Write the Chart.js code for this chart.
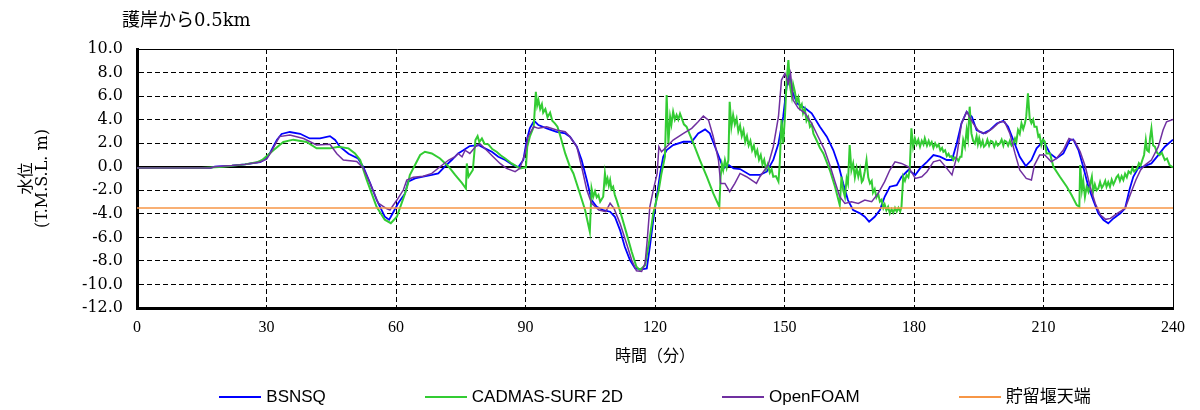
<!DOCTYPE html>
<html lang="ja">
<head>
<meta charset="utf-8">
<title>護岸から0.5km</title>
<script src="https://cdn.jsdelivr.net/npm/chart.js@4.4.1/dist/chart.umd.min.js"></script>
<style>
    html, body { margin: 0; padding: 0; background: #fff; }
    #wrap { position: relative; width: 1200px; height: 410px; overflow: hidden; }
    #levelChart { position: absolute; left: 0; top: 0; }
    #chart-title {
        position: absolute; left: 122px; top: 9px; line-height: 22px;
        font-size: 18px; font-family: "DejaVu Serif", "Noto Sans CJK JP", serif; color: #000;
    }
    #legend {
        position: absolute; left: 137px; width: 1036px; top: 386px; line-height: 22px;
        display: flex; justify-content: center; gap: 99px;
        font-size: 17px;
        font-family: "Liberation Sans Narrow", "Liberation Sans", "Noto Sans CJK JP", sans-serif;
        color: #000;
    }
    .legend-item { display: flex; align-items: center; white-space: nowrap; }
    .legend-line { width: 42px; height: 2px; margin-right: 5px; }
</style>
</head>
<body>
<div id="wrap">
    <canvas id="levelChart" width="1200" height="410"></canvas>
    <div id="chart-title">護岸から0.5km</div>
    <div id="legend"></div>
</div>
<script>
// Axis ticks
const xTicks = [0, 30, 60, 90, 120, 150, 180, 210, 240];
const yTicks = [-12, -10, -8, -6, -4, -2, 0, 2, 4, 6, 8, 10];

// Series names and colours
const seriesNames = ['BSNSQ', 'CADMAS-SURF 2D', 'OpenFOAM', '貯留堰天端'];
const seriesColors = ['#0000ff', '#33cc33', '#7030a0', '#f79646'];
const seriesWidths = [1.8, 2, 1.5, 1.5];

// [time (min), water level (m)]
const bsnsq = [
    [0,-0.1],[17,-0.1],[18,0],[22,0.1],[25,0.2],[28.5,0.4],[30,0.7],[31,1.3],[32.4,2.27],[33.5,2.78],
    [35.4,2.95],[37.8,2.8],[40,2.4],[42.4,2.4],[44.7,2.6],[45.9,2.27],[47,1.7],[49,1.1],[51.2,0.7],[52.4,0],
    [54,-1.4],[55.5,-2.8],[57.4,-4.25],[58.4,-4.5],[58.8,-4.25],[60.5,-3.1],[62.1,-2.27],[62.8,-1.27],[64.4,-0.99],[66.3,-0.85],
    [68.3,-0.7],[69.8,-0.57],[71.3,0],[72.9,0.57],[74.4,1.13],[75.6,1.4],[77.1,1.76],[79.1,1.84],[80.6,1.56],[82.2,1.27],
    [83.7,0.85],[85.3,0.57],[86.8,0.22],[88.3,-0.05],[89.5,0.57],[90.3,2.27],[91,3.26],[92,3.9],[93,3.54],[94.9,3.26],
    [97.2,2.97],[99.2,2.83],[100.3,2.55],[101.9,1.7],[103,0.57],[104.2,-1.13],[105.3,-2.83],[106.5,-3.4],[108,-3.68],[109.6,-3.82],
    [110.7,-4.25],[111.9,-5.38],[113,-6.8],[114.2,-7.93],[115.4,-8.64],[116.9,-8.72],[118.1,-8.64],[118.8,-6.8],[119.6,-4.53],[120.4,-2.55],
    [121.2,-0.57],[121.9,0.85],[122.7,1.42],[124.2,1.84],[126.6,2.12],[128.5,2.12],[130,2.83],[131.6,3.17],[132.7,2.83],[133.9,1.7],
    [135.1,0.57],[135.8,-0.14],[137.1,0.14],[138.2,-0.14],[139.7,-0.2],[142,-0.7],[144.3,-0.7],[145.9,-0.42],[147.4,0.57],[148.6,1.98],
    [149.7,4.25],[150.5,6.8],[151.1,7.93],[151.7,6.52],[152.9,5.38],[154.8,4.96],[156.3,4.53],[158.2,3.4],[159.8,2.55],[161.3,1.42],
    [162.5,0.14],[163.6,-1.42],[164.7,-2.83],[165.9,-3.68],[167.5,-3.96],[168.6,-4.25],[169.6,-4.67],[170.9,-4.25],[172.1,-3.68],[173.2,-2.55],
    [174.4,-1.7],[176,-1.56],[177.1,-0.85],[178.7,-0.28],[180.3,-0.7],[181.4,-0.14],[183,0.42],[184.5,0.99],[186,0.85],[187.6,0.57],
    [188.8,0.57],[189.9,1.98],[191,3.68],[192.2,4.67],[193.4,4.25],[194.5,3.12],[196.1,2.83],[197.6,3.12],[199.2,3.68],[200.7,3.9],
    [201.8,3.4],[203,2.27],[204.5,0.85],[205.9,0.06],[207.2,0.57],[208.4,1.56],[209.1,1.84],[209.9,2.27],[211.5,1.13],[213,0.71],
    [214.6,1.13],[216.1,2.27],[216.9,2.32],[218.1,1.42],[219.2,0],[220.4,-1.7],[221.5,-2.83],[222.7,-3.96],[223.9,-4.53],[225,-4.81],
    [226.2,-4.39],[227.8,-3.96],[228.9,-3.54],[229.9,-1.98],[230.8,-0.85],[231.9,-0.14],[233.5,0.06],[235,0.28],[236.6,0.99],[238.1,1.7],
    [240,2.3]
];

const cadmas = [
    [0,-0.1],[15,-0.1],[20,0],[25,0.2],[28,0.4],[29,0.57],[31.6,1.4],[33.9,2.1],[36.2,2.3],[39.3,2.1],
    [41.6,1.56],[44.7,1.56],[46.7,1.7],[49,1.56],[50.5,1.13],[51.7,0.57],[53.2,-1.1],[55.5,-3.4],[57.4,-4.5],[58.8,-4.8],
    [60.2,-4.25],[62.1,-2.27],[62.8,-1.4],[63.2,-0.7],[64.4,0.14],[65.6,1.0],[66.7,1.27],[68.3,1.13],[70.2,0.7],[72.2,0],
    [73.7,-0.7],[75.3,-1.4],[76.2,-1.85],[76.4,0.28],[76.8,-0.85],[77.8,-0.28],[78.4,2.27],[78.9,2.6],[79.3,2.1],[79.9,2.4],
    [80.5,1.95],[81.4,1.9],[82.3,1.5],[83.3,1.27],[84.3,0.95],[85.3,0.7],[86.8,0.28],[88.7,-0.14],[90.1,-0.05],[90.4,1.7],
    [91,2.55],[91.9,3.4],[92.4,6.37],[92.7,5.2],[93,5.66],[93.4,4.9],[93.8,5.3],[94.1,4.6],[94.6,4.9],[95.1,4.2],
    [95.7,4.6],[96.2,3.9],[96.8,3.68],[97.4,3.4],[98,2.7],[99.2,1.13],[100.3,0],[101.1,-0.57],[102.6,-2.27],[103.8,-3.68],
    [104.9,-5.52],[105.3,-1.84],[105.7,-2.55],[106.1,-2.1],[106.5,-2.6],[106.9,-2.4],[107.3,-2.97],[108,-2.55],[108.4,-0.57],[108.7,-1.4],
    [109,-1.0],[109.3,-1.6],[109.6,-1.13],[109.9,-1.9],[110.3,-1.7],[110.7,-2.4],[111.1,-2.83],[112.3,-4.25],[113.4,-5.66],[114.6,-7.22],
    [115.7,-8.5],[116.5,-8.78],[117.7,-8.36],[118.7,-6.23],[119.6,-3.96],[120.8,-2.12],[121.5,-0.57],[122.3,0.85],[122.7,6.1],[123.1,1.98],
    [123.5,4.25],[123.8,3.6],[124.2,4.67],[124.6,4.0],[125,4.4],[125.4,4.0],[125.8,4.5],[126.2,4.1],[126.7,3.6],[127.3,3.4],
    [128.9,1.98],[130.4,0.57],[132,-0.85],[133.5,-2.27],[134.9,-3.4],[135.2,-0.85],[135.5,0.2],[135.8,-0.3],[136.2,0.57],[136.6,-0.1],
    [137,0.57],[137.3,5.52],[137.7,3.4],[138.1,4.4],[138.5,3.6],[138.9,4.1],[139.3,3.0],[139.7,3.5],[140.1,2.6],[140.5,3.1],
    [140.9,2.1],[141.3,2.6],[141.7,1.8],[142.1,2.2],[142.5,1.4],[142.9,1.8],[143.3,1.0],[143.7,1.4],[144.1,0.6],[144.5,1.0],
    [144.9,0.2],[145.3,0.6],[145.7,-0.2],[146.1,0.2],[146.6,-0.5],[147,-0.2],[147.4,-0.85],[148,-0.8],[148.6,-1.27],[148.9,0.28],
    [149.3,3.96],[149.7,1.98],[150.1,4.25],[150.5,7.36],[150.9,9.06],[151.3,6.8],[151.7,5.95],[152,7.0],[152.4,6.37],[152.8,5.5],
    [153.2,5.9],[153.6,5.0],[154,5.3],[154.3,4.53],[154.7,4.9],[155.1,3.9],[155.5,4.2],[155.9,3.4],[156.3,3.6],[156.7,2.8],
    [157.4,2.27],[158.2,1.6],[159,1.13],[160.5,-0.28],[161.7,-1.7],[162.8,-3.26],[163.2,-0.85],[163.6,-2.0],[164,-2.55],[164.4,-1.0],
    [164.7,-1.42],[165.1,1.84],[165.5,-0.3],[165.9,0.28],[166.3,-0.9],[166.7,-0.1],[167.1,-0.85],[167.5,-0.2],[167.9,-1.3],[168.2,-1.13],
    [168.6,-0.4],[169,0.57],[169.4,-0.9],[169.8,-1.42],[170.2,-1.2],[170.5,-2.2],[170.9,-1.9],[171.3,-2.6],[171.7,-2.3],[172.1,-2.97],
    [172.5,-2.8],[172.9,-3.5],[173.2,-3.2],[173.6,-3.7],[174,-3.4],[174.4,-3.96],[174.8,-3.6],[175.2,-3.9],[175.6,-3.5],[176,-3.82],
    [176.4,-3.5],[176.8,-3.8],[177.1,-3.4],[177.5,-0.85],[177.9,-1.2],[178.3,-0.7],[178.7,-0.9],[179,-0.3],[179.4,3.26],[179.8,1.7],
    [180.2,2.4],[180.6,1.9],[181,2.3],[181.4,1.7],[181.8,2.2],[182.2,1.9],[182.5,2.41],[183,1.8],[183.4,2.2],[183.7,1.84],
    [184.1,2.1],[184.5,1.6],[184.9,2.0],[185.3,1.7],[185.7,1.9],[186.1,1.4],[186.5,1.6],[186.8,1.27],[187.2,1.4],[187.6,0.9],
    [188,1.1],[188.3,0.85],[188.7,0.9],[189.1,0.57],[189.5,0.8],[189.9,0.71],[190.3,0.5],[190.7,0.85],[191,0.85],[191.4,2.27],
    [191.8,1.7],[192.2,3.12],[192.5,2.4],[192.9,5.1],[193.3,2.83],[193.7,2.2],[194.1,1.98],[194.5,2.6],[194.8,1.9],[195.1,2.41],
    [195.5,1.8],[195.9,2.2],[196.2,1.7],[196.6,1.84],[197,2.3],[197.4,1.8],[197.8,2.2],[198.2,2.12],[198.6,1.7],[199,2.1],
    [199.4,1.8],[199.9,1.98],[200.3,2.3],[200.7,1.8],[201,2.2],[201.4,2.12],[201.8,1.8],[202.2,2.2],[202.6,1.8],[203,1.98],
    [203.4,2.4],[203.7,2.1],[204.1,3.12],[204.5,2.8],[204.9,3.68],[205.3,3.2],[205.7,3.7],[206,4.25],[206.4,6.23],[206.8,4.1],
    [207.2,3.7],[207.6,4.0],[207.9,3.4],[208.4,3.4],[208.8,2.55],[209.1,2.69],[209.5,1.84],[209.9,2.3],[210.3,2.12],[210.7,1.13],
    [211.5,1.13],[212.3,0],[213.8,-0.85],[215.4,-1.7],[216.5,-2.41],[217.7,-3.26],[218.3,-3.4],[218.5,0.14],[218.9,-1.98],[219.2,-1.2],
    [219.6,-2.55],[220,-1.7],[220.4,-2.12],[220.8,-1.5],[221.2,-0.85],[221.5,-2.12],[221.9,-1.5],[222.3,-2.0],[222.7,-1.84],[223.1,-1.3],
    [223.5,-1.8],[223.9,-1.56],[224.3,-1.2],[224.6,-1.7],[225,-1.3],[225.4,-1.7],[225.8,-1.1],[226.2,-1.5],[226.5,-1.27],[226.9,-0.9],
    [227.3,-0.71],[227.7,-1.2],[228.1,-0.8],[228.5,-1.13],[228.9,-0.6],[229.3,-0.9],[229.7,-0.4],[230.2,-0.57],[230.6,-0.1],[231,-0.4],
    [231.7,-0.14],[232.1,0.3],[232.5,0.1],[232.9,0.57],[233.3,1.0],[233.7,2.27],[234,1.4],[234.4,1.27],[234.7,2.5],[235,3.26],
    [235.4,1.8],[235.8,1.7],[236.3,1.2],[236.9,0.99],[237.4,1.2],[238.1,0.57],[238.6,0.7],[239.2,0.14],[240,-0.06]
];

const openFoam = [
    [0,-0.1],[17,-0.1],[18,0],[22,0.1],[25,0.2],[28.5,0.4],[30,0.65],[31,1.2],[33,2.56],[35.4,2.7],
    [38.6,2.4],[41.6,1.85],[44.7,1.9],[46.3,1.1],[47.8,0.57],[50.9,0.45],[52.4,-0.1],[54,-1.4],[55.9,-3.1],[57.8,-3.55],
    [58.6,-3.68],[60.2,-2.83],[61.7,-1.98],[62.5,-1.13],[64,-0.9],[66.3,-0.8],[68.3,-0.57],[70.2,0],[72.2,0.57],[73.7,0.85],
    [74.4,1.13],[75.3,0.85],[76,1.4],[77.1,1.13],[78.4,1.7],[79.5,1.93],[81,1.4],[82.5,0.85],[84.1,0.28],[85.6,-0.14],
    [87.6,-0.42],[88.7,-0.14],[89.9,1.13],[90.6,2.55],[91.9,3.4],[93,3.26],[94.9,3.4],[97.2,3.12],[99.2,2.97],[100.3,2.55],
    [101.9,1.7],[103,0],[104.2,-1.98],[105.3,-3.1],[107,-3.68],[108.6,-3.82],[109.6,-3.1],[110.5,-3.54],[111.9,-4.81],[113.4,-6.52],
    [114.6,-7.93],[115.7,-8.84],[116.9,-8.9],[117.7,-8.2],[118.2,-6.23],[118.8,-3.4],[119.6,-1.98],[120.5,-0.57],[120.9,1.7],[121.5,1.27],
    [122.7,1.7],[124.2,2.27],[126.6,2.83],[128.5,3.26],[130,3.82],[131.2,4.3],[132.4,3.96],[133.5,2.55],[134.7,0.57],[135.2,-1.42],
    [136.2,-1.42],[137.3,-2.12],[138.5,-1.42],[139.7,-0.57],[141.2,-0.85],[143.5,-1.42],[144.3,-0.85],[146.2,0.14],[147.4,1.7],[148.6,4.25],
    [149.3,7.36],[150.1,7.93],[150.9,7.08],[151.4,7.93],[152,5.66],[153.2,4.96],[154.8,4.53],[156.3,3.68],[157.8,2.55],[159.3,1.42],
    [160.5,0.14],[161.7,-1.27],[162.8,-2.55],[164,-3.12],[165.5,-2.97],[167.1,-3.12],[168.6,-2.83],[170.2,-2.97],[171.7,-2.27],[173.2,-1.27],
    [174.4,-0.28],[175.6,0.42],[177.1,0.28],[178.7,0],[180.3,-0.99],[181.8,-0.85],[183,-0.42],[184.5,0.42],[186,0.57],[187.6,-0.14],
    [188.8,-0.7],[189.9,0.85],[191,3.68],[192.2,4.67],[193.7,3.68],[195.1,2.97],[196.6,2.83],[198.2,3.26],[199.9,3.82],[201,3.82],
    [202.2,2.83],[203.4,1.13],[204.5,-0.28],[206,-0.99],[207.2,-1.13],[207.9,0.14],[209.1,0.99],[210.3,0.99],[211.8,0.42],[213,0.71],
    [214.6,1.42],[215.9,2.41],[217.2,2.2],[218.5,1.27],[219.7,0],[220.8,-1.7],[222,-3.12],[223.2,-4.1],[224.4,-4.47],[225.5,-4.39],
    [227.1,-3.96],[228.9,-3.54],[230.2,-2.27],[231.4,-1.13],[232.5,-0.28],[233.5,0.14],[235,0.57],[236.6,1.7],[237.7,3.12],[238.5,3.82],
    [240,4.02]
];

// Crest of the storage weir
const weirCrest = [[0,-3.5],[240,-3.5]];

const seriesData = [bsnsq, cadmas, openFoam, weirCrest];

// Build HTML legend
function buildLegend() {
    const legendEl = document.getElementById('legend');
    seriesNames.forEach((name, i) => {
        const item = document.createElement('div');
        item.className = 'legend-item';
        const line = document.createElement('span');
        line.className = 'legend-line';
        line.style.background = seriesColors[i];
        const label = document.createElement('span');
        label.innerText = name;
        item.appendChild(line);
        item.appendChild(label);
        legendEl.appendChild(item);
    });
}

function initChart() {
    const ctx = document.getElementById('levelChart').getContext('2d');

    const datasets = seriesData.map((points, i) => ({
        label: seriesNames[i],
        data: points.map(p => ({ x: p[0], y: p[1] })),
        borderColor: seriesColors[i],
        borderWidth: seriesWidths[i],
        pointRadius: 0,
        tension: 0,
        fill: false,
        order: 4 - i // later series drawn on top
    }));

    new Chart(ctx, {
        type: 'line',
        data: { datasets: datasets },
        options: {
            responsive: false,
            animation: false,
            layout: {
                padding: { left: 18, right: 27, top: 49, bottom: 45 }
            },
            plugins: {
                legend: { display: false }, // custom legend in HTML
                title: { display: false },
                tooltip: { enabled: false }
            },
            scales: {
                x: {
                    type: 'linear',
                    min: 0,
                    max: 240,
                    afterBuildTicks: scale => { scale.ticks = xTicks.map(v => ({ value: v })); },
                    afterFit: scale => { scale.height = 57; },
                    grid: {
                        color: '#000',
                        lineWidth: 1,
                        drawTicks: false
                    },
                    border: {
                        color: '#000',
                        width: 3,
                        dash: c => (c.tick && (c.tick.value === 240 || c.tick.value === 0)) ? [] : [5, 3]
                    },
                    ticks: {
                        color: '#000',
                        padding: 10,
                        maxRotation: 0,
                        font: { family: '"Liberation Serif", serif', size: 16 }
                    },
                    title: {
                        display: true,
                        text: '時間（分）',
                        color: '#000',
                        padding: { top: 0, bottom: 0 },
                        font: { family: '"Noto Sans CJK JP", sans-serif', size: 16 }
                    }
                },
                y: {
                    type: 'linear',
                    min: -12,
                    max: 10,
                    afterBuildTicks: scale => { scale.ticks = yTicks.map(v => ({ value: v })); },
                    afterFit: scale => { scale.width = 119; },
                    grid: {
                        color: '#000',
                        lineWidth: c => (c.tick && c.tick.value === 0) ? 2 : 1,
                        drawTicks: false
                    },
                    border: {
                        color: '#000',
                        width: 3,
                        dash: c => (c.tick && (c.tick.value === 0 || c.tick.value === 10 || c.tick.value === -12)) ? [] : [5, 3]
                    },
                    ticks: {
                        color: '#000',
                        padding: 14,
                        callback: v => v.toFixed(1),
                        font: { family: '"DejaVu Serif", serif', size: 16 }
                    },
                    title: {
                        display: true,
                        text: ['水位', '(T.M.S.L. m)'],
                        color: '#000',
                        padding: { top: 1, bottom: 0 },
                        font: { family: '"DejaVu Serif", "Noto Sans CJK JP", serif', size: 16, lineHeight: 1.0 }
                    }
                }
            }
        }
    });
}

buildLegend();
initChart();
</script>
</body>
</html>
